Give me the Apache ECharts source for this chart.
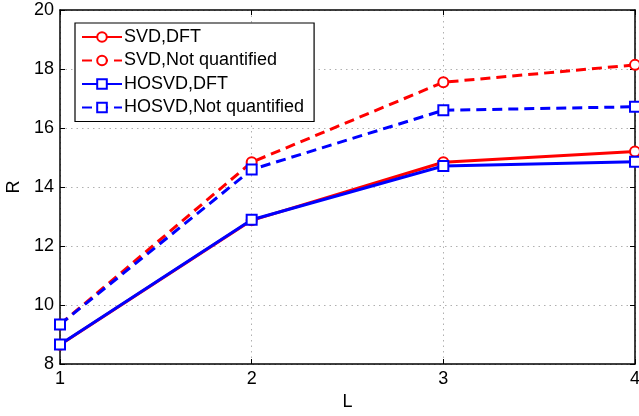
<!DOCTYPE html>
<html>
<head>
<meta charset="utf-8">
<script src="https://cdn.jsdelivr.net/npm/echarts@6/dist/echarts.min.js"></script>
<style>
  html, body { margin: 0; padding: 0; background: #fff; }
  #chart { width: 639px; height: 416px; }
</style>
</head>
<body>
<div id="chart"></div>
<script>
// Number of layers L on the x axis
const layers = [1, 2, 3, 4];
// Achieved rate R for each scheme
const svdDft = [8.65, 12.87, 14.84, 15.20];
const svdNotQuantified = [9.34, 14.84, 17.55, 18.14];
const hosvdDft = [8.66, 12.89, 14.71, 14.86];
const hosvdNotQuantified = [9.34, 14.59, 16.60, 16.72];
// Axis ranges and tick steps
const xRange = [1, 4, 1];
const yRange = [8, 20, 2];

const FONT = 'Liberation Sans, Arial, sans-serif';
const RED = '#ff0000';
const BLUE = '#0000ff';

function pairs(ys) {
  return layers.map((x, i) => [x, ys[i]]);
}

function makeSeries(name, ys, color, dashed, symbol) {
  return {
    name: name,
    type: 'line',
    data: pairs(ys),
    symbol: symbol,
    symbolSize: 10,
    showAllSymbol: true,
    lineStyle: { color: color, width: 3, type: dashed ? [10, 6] : 'solid' },
    itemStyle: { color: color, borderColor: color, borderWidth: 2 },
    emphasis: { disabled: true },
    animation: false,
    z: 3
  };
}

const chart = echarts.init(document.getElementById('chart'), null, { renderer: 'canvas' });

const frameAxisLine = { show: true, onZero: false, lineStyle: { color: '#000', width: 1.5 } };
const inwardTicks = { show: true, inside: true, length: 5, lineStyle: { color: '#000', width: 1 } };
const dottedGrid = { show: true, lineStyle: { color: '#b0b0b0', width: 1, type: [1.5, 4] } };

chart.setOption({
  backgroundColor: '#ffffff',
  textStyle: { fontFamily: FONT },
  grid: { left: 60, right: 4, top: 10, bottom: 52, containLabel: false, outerBoundsMode: 'none' },
  legend: {
    orient: 'vertical',
    left: 75,
    top: 23,
    width: 240,
    backgroundColor: '#ffffff',
    borderColor: '#000',
    borderWidth: 1.2,
    padding: [5, 10, 5, 6],
    itemWidth: 40,
    itemHeight: 12,
    itemGap: 5.5,
    textStyle: { fontFamily: FONT, fontSize: 18, color: '#000', padding: [0, 0, 0, -3] },
    selectedMode: false,
    data: ['SVD,DFT', 'SVD,Not quantified', 'HOSVD,DFT', 'HOSVD,Not quantified']
  },
  xAxis: [
    {
      type: 'value',
      min: xRange[0], max: xRange[1], interval: xRange[2],
      name: 'L',
      nameLocation: 'middle',
      nameGap: 28,
      nameTextStyle: { fontFamily: FONT, fontSize: 18, color: '#000' },
      axisLine: frameAxisLine,
      axisTick: inwardTicks,
      axisLabel: { fontFamily: FONT, fontSize: 18, color: '#000', margin: 6 },
      splitLine: dottedGrid
    },
    {
      type: 'value',
      position: 'top',
      min: xRange[0], max: xRange[1], interval: xRange[2],
      axisLine: frameAxisLine,
      axisTick: inwardTicks,
      axisLabel: { show: false },
      splitLine: { show: false }
    }
  ],
  yAxis: [
    {
      type: 'value',
      min: yRange[0], max: yRange[1], interval: yRange[2],
      name: 'R',
      nameLocation: 'middle',
      nameGap: 30,
      nameRotate: 90,
      nameTextStyle: { fontFamily: FONT, fontSize: 18, color: '#000' },
      axisLine: frameAxisLine,
      axisTick: inwardTicks,
      axisLabel: { fontFamily: FONT, fontSize: 18, color: '#000', margin: 6 },
      splitLine: dottedGrid
    },
    {
      type: 'value',
      position: 'right',
      min: yRange[0], max: yRange[1], interval: yRange[2],
      axisLine: frameAxisLine,
      axisTick: inwardTicks,
      axisLabel: { show: false },
      splitLine: { show: false }
    }
  ],
  series: [
    makeSeries('SVD,DFT', svdDft, RED, false, 'emptyCircle'),
    makeSeries('SVD,Not quantified', svdNotQuantified, RED, true, 'emptyCircle'),
    makeSeries('HOSVD,DFT', hosvdDft, BLUE, false, 'emptyRect'),
    makeSeries('HOSVD,Not quantified', hosvdNotQuantified, BLUE, true, 'emptyRect')
  ]
});
</script>
</body>
</html>
